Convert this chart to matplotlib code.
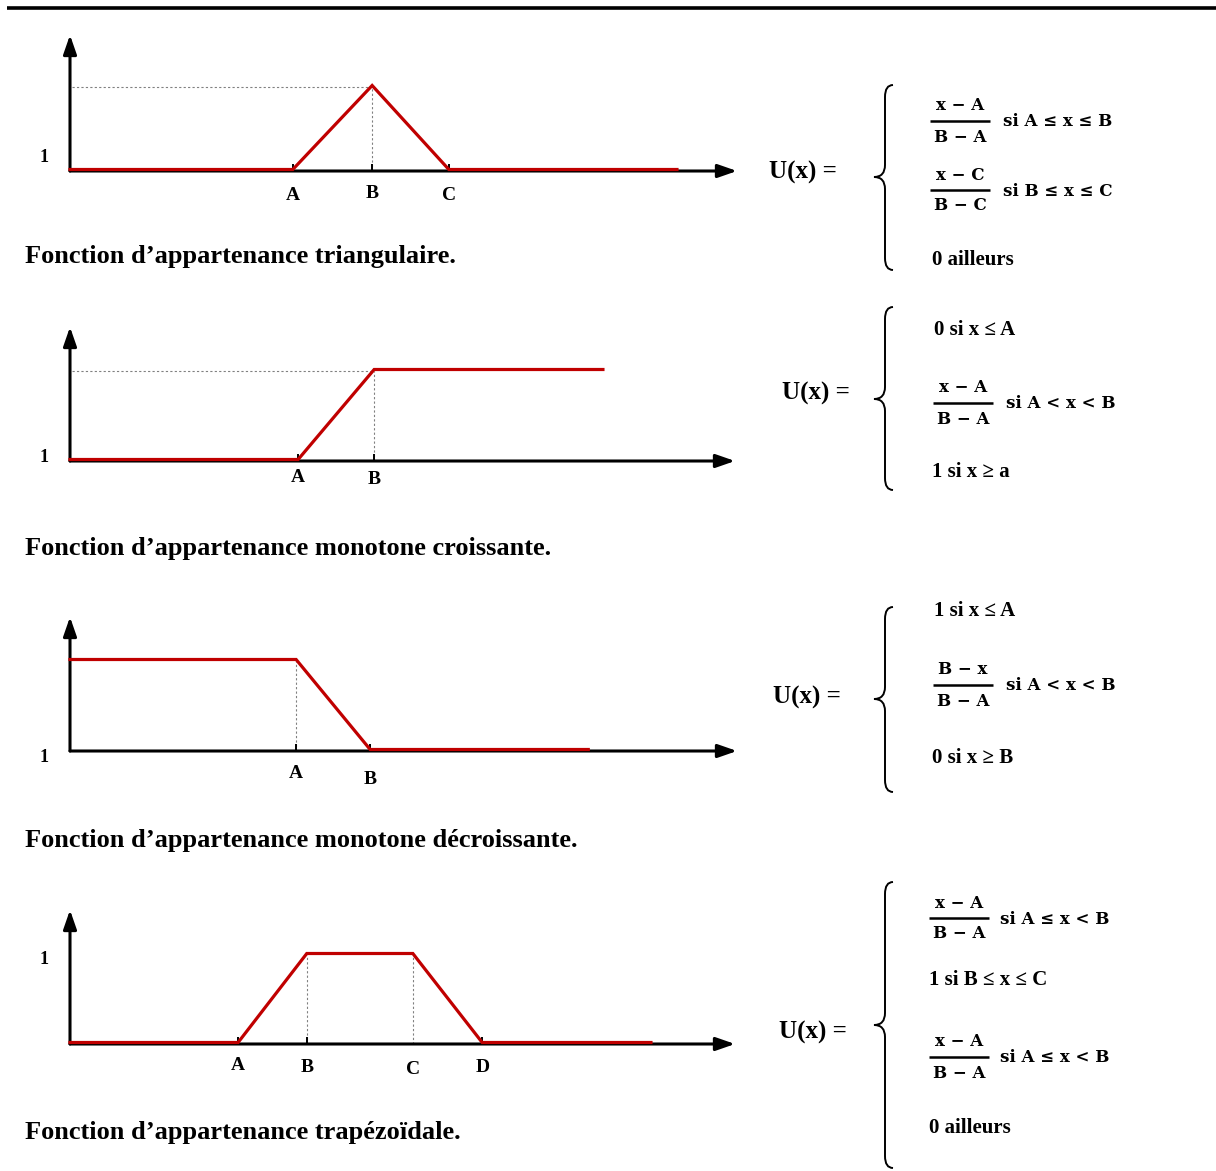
import numpy as np
import matplotlib
matplotlib.use("Agg")
import matplotlib.pyplot as plt
import matplotlib.transforms as mtransforms
from matplotlib.path import Path
from matplotlib.patches import PathPatch

plt.rcParams['font.family'] = ['Liberation Serif', 'DejaVu Serif']
plt.rcParams['font.weight'] = 'bold'

W, H = 1216, 1171
RED = '#c00000'

# breakpoints (x axis arrow ~ 10 units long) and membership levels
tri_x = [0, 3.34, 4.53, 5.68, 9.10]
tri_y = [0, 0, 1, 0, 0]
tri_labels = ['A', 'B', 'C']

inc_x = [0, 3.42, 4.56, 7.99]
inc_y = [0, 0, 1, 1]
inc_labels = ['A', 'B']

dec_x = [0, 3.39, 4.50, 7.77]
dec_y = [1, 1, 0, 0]
dec_labels = ['A', 'B']

trap_x = [0, 2.52, 3.55, 5.14, 6.18, 8.71]
trap_y = [0, 0, 1, 1, 0, 0]
trap_labels = ['A', 'B', 'C', 'D']

captions = ['Fonction d\u2019appartenance triangulaire.',
            'Fonction d\u2019appartenance monotone croissante.',
            'Fonction d\u2019appartenance monotone d\u00e9croissante.',
            'Fonction d\u2019appartenance trap\u00e9zo\u00efdale.']

# layout of each panel in pixels: origin y, height of level 1, arrow height, x tip
panels = [
    dict(x=tri_x, y=tri_y, labels=tri_labels, lx=tri_x[1:4], origin=171, unit=84, top=136, tip=737,
         ticks=tri_x[1:4], hdot=[tri_x[2]], vdot=[tri_x[2]], one_y=157, lab_dy=[24, 22, 24],
         cap_y=257),
    dict(x=inc_x, y=inc_y, labels=inc_labels, lx=inc_x[1:3], origin=461, unit=90, top=134, tip=735,
         ticks=inc_x[1:3], hdot=[inc_x[2]], vdot=[inc_x[2]], one_y=458, lab_dy=[17, 19],
         cap_y=549),
    dict(x=dec_x, y=dec_y, labels=dec_labels, lx=dec_x[1:3], origin=751, unit=90, top=134, tip=737,
         ticks=dec_x[1:3], hdot=[], vdot=[dec_x[1]], one_y=758, lab_dy=[22, 29],
         cap_y=841),
    dict(x=trap_x, y=trap_y, labels=trap_labels, lx=trap_x[1:5], origin=1044, unit=89, top=134, tip=735,
         ticks=[trap_x[1], trap_x[2], trap_x[4]], hdot=[], vdot=[trap_x[2], trap_x[3]], one_y=959,
         lab_dy=[22, 24, 25, 23], cap_y=1132),
]

fig = plt.figure(figsize=(W / 100, H / 100), dpi=100)
fig.patch.set_facecolor('white')

ov = fig.add_axes([0, 0, 1, 1])
ov.set_xlim(0, W)
ov.set_ylim(H, 0)
ov.axis('off')
ov.patch.set_visible(False)

# top rule
ov.plot([7, W], [8, 8], color='black', lw=2.6, solid_capstyle='butt')

X0, XLEN = 70, 667  # x origin and pixels for 10 units
for p in panels:
    ax = fig.add_axes([X0 / W, 1 - p['origin'] / H, XLEN / W, p['top'] / H])
    ax.set_xlim(0, 10)
    ax.set_ylim(0, p['top'] / p['unit'])
    ax.axis('off')
    ax.patch.set_visible(False)
    xend = (p['tip'] - X0) / XLEN * 10
    ytop = p['top'] / p['unit']
    arrow = dict(arrowstyle='-|>,head_length=1.15,head_width=0.4', mutation_scale=10,
                 lw=2.2, color='black', shrinkA=0, shrinkB=0)
    ax.annotate('', xy=(xend, 0), xytext=(0, 0), arrowprops=arrow, annotation_clip=False)
    ax.annotate('', xy=(0, ytop), xytext=(0, 0), arrowprops=arrow, annotation_clip=False)

    # dotted guides
    for xb in p['hdot']:
        ax.plot([0.03, xb], [1, 1], color='#808080', lw=0.8, ls=(0, (2, 2)))
    for xb in p['vdot']:
        ax.plot([xb, xb], [0, 1], color='#808080', lw=0.8, ls=(0, (2, 2)))
    # ticks
    th = 7 / p['unit']
    ax.vlines(p['ticks'], 0, th, color='black', lw=1.4)

    red_tr = mtransforms.offset_copy(ax.transData, fig=fig, x=0, y=1.5, units='dots')
    ax.plot(p['x'], p['y'], color=RED, lw=2.3, transform=red_tr, solid_joinstyle='miter',
            clip_on=False, zorder=5)

    for lab, xl, dy in zip(p['labels'], p['lx'], p['lab_dy']):
        px = X0 + xl / 10 * XLEN
        ov.text(px, p['origin'] + dy, lab, ha='center', va='center', fontsize=14)
    ov.text(44, p['one_y'], '1', ha='center', va='center', fontsize=13)

for cap, p in zip(captions, panels):
    ov.text(25, p['cap_y'], cap, ha='left', va='center', fontsize=19)


def brace(x, y0, y1, ym, w=11, r=12):
    verts = [(x + 8, y0), (x, y0), (x, y0 + r),
             (x, ym - r), (x, ym), (x - w, ym),
             (x, ym), (x, ym + r),
             (x, y1 - r), (x, y1), (x + 8, y1)]
    codes = [Path.MOVETO, Path.CURVE3, Path.CURVE3,
             Path.LINETO, Path.CURVE3, Path.CURVE3,
             Path.CURVE3, Path.CURVE3,
             Path.LINETO, Path.CURVE3, Path.CURVE3]
    ov.add_patch(PathPatch(Path(verts, codes), fill=False, lw=1.4, color='black'))


MATH = ['DejaVu Serif']


def frac(xc, yl, num, den, half=30, fs=12):
    ov.text(xc, yl - 15, num, ha='center', va='center', fontsize=fs, family=MATH, fontweight='bold')
    ov.plot([xc - half, xc + half], [yl, yl], color='black', lw=1.8, solid_capstyle='butt')
    ov.text(xc, yl + 16, den, ha='center', va='center', fontsize=fs, family=MATH, fontweight='bold')


def cond(x, y, s, fs=12):
    ov.text(x, y, s, ha='left', va='center', fontsize=fs, family=MATH, fontweight='bold')


def txt(x, y, s, fs=15):
    ov.text(x, y, s, ha='left', va='center', fontsize=fs)


def ux(x, y):
    ov.text(x, y, 'U(x) =', ha='left', va='center', fontsize=18)


M = '\u2212'
LE = '\u2264'
GE = '\u2265'

# panel 1 formula
ux(769, 172)
brace(885, 85, 270, 177)
frac(960, 121, f'x {M} A', f'B {M} A')
cond(1003, 122, f'si A {LE} x {LE} B')
frac(960, 190, f'x {M} C', f'B {M} C')
cond(1003, 191, f'si B {LE} x {LE} C')
txt(932, 260, '0 ailleurs')

# panel 2 formula
ux(782, 393)
brace(885, 307, 490, 399)
txt(934, 330, f'0 si x {LE} A')
frac(963, 403, f'x {M} A', f'B {M} A')
cond(1006, 404, 'si A < x < B')
txt(932, 472, f'1 si x {GE} a')

# panel 3 formula
ux(773, 697)
brace(885, 607, 792, 699)
txt(934, 611, f'1 si x {LE} A')
frac(963, 685, f'B {M} x', f'B {M} A')
cond(1006, 686, 'si A < x < B')
txt(932, 758, f'0 si x {GE} B')

# panel 4 formula
ux(779, 1032)
brace(885, 882, 1168, 1025)
frac(959, 918, f'x {M} A', f'B {M} A')
cond(1000, 919, f'si A {LE} x < B')
txt(929, 980, f'1 si B {LE} x {LE} C')
frac(959, 1057, f'x {M} A', f'B {M} A')
cond(1000, 1058, f'si A {LE} x < B')
txt(929, 1128, '0 ailleurs')

fig.savefig('out.png', dpi=100, facecolor='white')
